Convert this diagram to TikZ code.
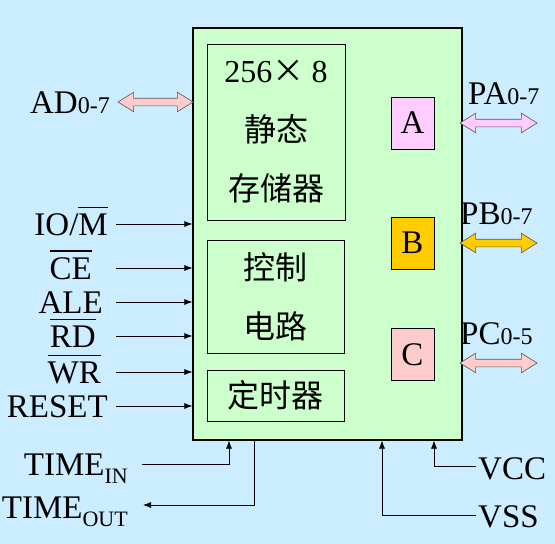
\documentclass[tikz,border=0pt]{standalone}
\usepackage{fontspec}
\setmainfont{Liberation Serif}
\newfontfamily\cjk{Noto Sans CJK SC}
\usetikzlibrary{positioning}
\usetikzlibrary{shapes.arrows}
\usetikzlibrary{arrows.meta}
\usetikzlibrary{calc}

\definecolor{bgblue}{HTML}{CCECFF}
\definecolor{chipgreen}{HTML}{CCFFCC}
\definecolor{portA}{HTML}{FFCCFF}
\definecolor{portB}{HTML}{FFCC00}
\definecolor{portC}{HTML}{FFCCCC}

\newcommand{\nbar}[1]{\leavevmode\vbox{\hrule height 1.2pt\kern5.5pt\hbox{#1}}}
\newcommand{\sm}[1]{{\fontsize{24}{24}\selectfont #1}}
\newcommand{\sub}[1]{\raisebox{-8pt}{\fontsize{22}{22}\selectfont #1}}

\begin{document}
\begin{tikzpicture}[x=1pt,y=-1pt,
            font=\fontsize{33}{40}\selectfont,
            chip/.style={draw, line width=1.2pt, fill=chipgreen, inner sep=0pt},
            unit/.style={draw, line width=0.8pt, inner sep=0pt, align=center,
            font=\cjk\fontsize{32}{59}\selectfont},
            port/.style={draw, line width=0.8pt, minimum width=43pt, minimum height=52pt,
            inner sep=0pt},
            dblarrow/.style={double arrow, draw=black!65, line width=0.6pt, inner sep=3.5pt,
            double arrow head extend=6pt, double arrow tip angle=64, minimum height=77pt},
            lbl/.style={inner sep=0pt, text height=22pt, text depth=0pt, anchor=east},
            sig/.style={line width=0.7pt, -{Latex[length=8pt,width=6pt]}}]
        \fill[bgblue] (0,0) rectangle (555,544);
        \useasboundingbox (0,0) rectangle (555,544);

        % chip and its parts
        \node[chip, minimum width=269pt, minimum height=412pt] (chip) at (327.5,234) {};
        \node[unit, minimum width=138pt, minimum height=176pt] (ram) at (276,132)
            {{\rmfamily 256}×\ {\rmfamily 8}\\静态\\存储器};
        \node[unit, minimum width=137pt, minimum height=113pt] (ctrl) at (275.5,296.5)
            {控制\\电路};
        \node[unit, minimum width=137pt, minimum height=51pt] (timer) at (275.5,395.5)
            {定时器};
        \node[port, fill=portA] (pA) at (412.5,123) {A};
        \node[port, fill=portB] (pB) at (412.5,243) {B};
        \node[port, fill=portC] (pC) at (412.5,354.5) {C};

        % ports
        \node[dblarrow, fill=portC, minimum height=75pt] (adbus) at (155.5,102) {};
        \node[lbl] (ad) at (110,102) {AD\sm{0-7}};
        \node[dblarrow, fill=portA] (pabus) at (498.5,123) {};
        \node[dblarrow, fill=portB] (pbbus) at (498.5,243) {};
        \node[dblarrow, fill=portC] (pcbus) at (498.5,363) {};
        \node[lbl, anchor=west] (pa) at (468,93) {PA\sm{0-7}};
        \node[lbl, anchor=west] (pb) at (460,213) {PB\sm{0-7}};
        \node[lbl, anchor=west] (pc) at (460,333) {PC\sm{0-5}};

        % control inputs
        \coordinate (sigx) at (116,0);
        \node[lbl] (io) at (108,224) {IO/\nbar{M}};
        \node[lbl] (ce) at (92,268) {\nbar{CE}};
        \node[lbl] (ale) at (103,302) {ALE};
        \node[lbl] (rd) at (96,336) {\nbar{RD}};
        \node[lbl] (wr) at (101,372) {\nbar{WR}};
        \node[lbl] (reset) at (108,406) {RESET};
        \foreach \s in {io,ce,ale,rd,wr,reset}
            \draw[sig] (sigx |- \s.east) -- (chip.west |- \s.east);

        % timer and supply
        \node[lbl] (tin) at (128,464) {TIME\sub{IN}};
        \node[lbl] (tout) at (128,507) {TIME\sub{OUT}};
        \node[lbl, anchor=west] (vcc) at (478,468) {VCC};
        \node[lbl, anchor=west] (vss) at (478,516) {VSS};
        \draw[sig] ([xshift=14pt]tin.east) -| ([xshift=-98.5pt]chip.south);
        \draw[sig] ([xshift=-73.5pt]chip.south) |- ([xshift=15pt,yshift=2pt]tout.east);
        \draw[sig] ([xshift=-2pt,yshift=2pt]vcc.west) -| ([xshift=106.5pt]chip.south);
        \draw[sig] ([xshift=-2pt,yshift=1pt]vss.west) -| ([xshift=54.5pt]chip.south);
    \end{tikzpicture}
\end{document}
